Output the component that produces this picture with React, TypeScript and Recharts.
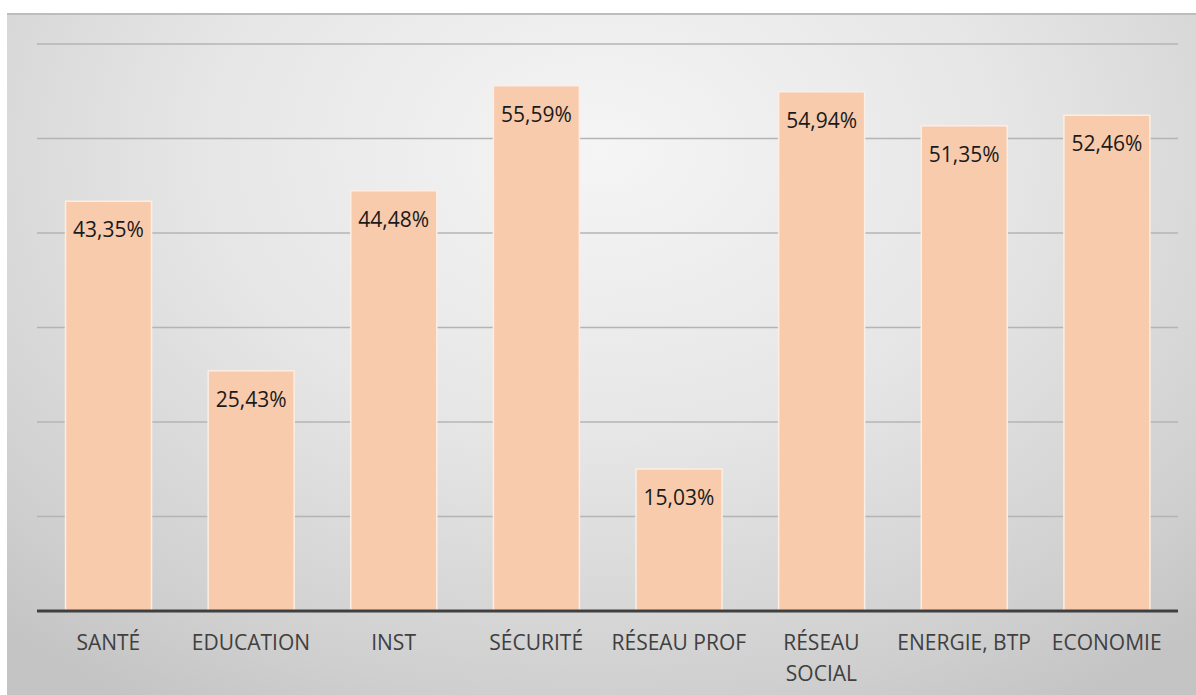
import React from 'react';
import { BarChart, Bar, XAxis, YAxis, CartesianGrid, LabelList } from 'recharts';

// Categories and percentages
const categories = ['SANTÉ', 'EDUCATION', 'INST', 'SÉCURITÉ', 'RÉSEAU PROF', 'RÉSEAU SOCIAL', 'ENERGIE, BTP', 'ECONOMIE'];
const values = [43.35, 25.43, 44.48, 55.59, 15.03, 54.94, 51.35, 52.46];
const yTicks = [0, 10, 20, 30, 40, 50, 60];

const data = categories.map((name, i) => ({ name, value: values[i] }));

const FONT = '"Open Sans", "Noto Sans", sans-serif';

// x-axis tick: long names wrap on two lines like the original
function CategoryTick(props: any) {
  const { x, y, payload } = props;
  const text: string = payload.value;
  const lines = text.length > 12 ? text.split(' ') : [text];
  return (
    <g transform={`translate(${x},${y})`}>
      {lines.map((line, i) => (
        <text
          key={i}
          x={0}
          y={31 + i * 31}
          textAnchor="middle"
          fill="#404040"
          fontSize={21}
          fontFamily={FONT}
        >
          {line}
        </text>
      ))}
    </g>
  );
}

export default function App() {
  return (
    <div
      style={{
        position: 'absolute',
        left: 7,
        top: 13,
        width: 1189,
        height: 682,
        borderTop: '2px solid #bdbdbd',
        boxSizing: 'border-box',
        background: 'radial-gradient(ellipse 75% 95% at 50% 20%, #f5f5f5 0%, #e6e6e6 45%, #cfcfcf 85%, #c4c4c4 100%)',
      }}
    >
      <BarChart
        width={1189}
        height={680}
        data={data}
        margin={{ top: 29, right: 18, left: 30, bottom: 0 }}
        barCategoryGap="20%"
      >
        <CartesianGrid vertical={false} stroke="#b4b4b4" strokeWidth={1.5} />
        <XAxis
          dataKey="name"
          height={84}
          interval={0}
          tickLine={false}
          axisLine={{ stroke: '#404040', strokeWidth: 3 }}
          tick={<CategoryTick />}
        />
        <YAxis hide domain={[0, 60]} ticks={yTicks} />
        <Bar dataKey="value" fill="#F8CBAD" stroke="#fbeee4" strokeWidth={1.5} isAnimationActive={false}>
          <LabelList
            dataKey="value"
            position="insideTop"
            offset={21}
            formatter={(v: any) => `${Number(v).toFixed(2).replace('.', ',')}%`}
            fill="#1a1a1a"
            fontSize={21}
            fontFamily={FONT}
          />
        </Bar>
      </BarChart>
    </div>
  );
}
